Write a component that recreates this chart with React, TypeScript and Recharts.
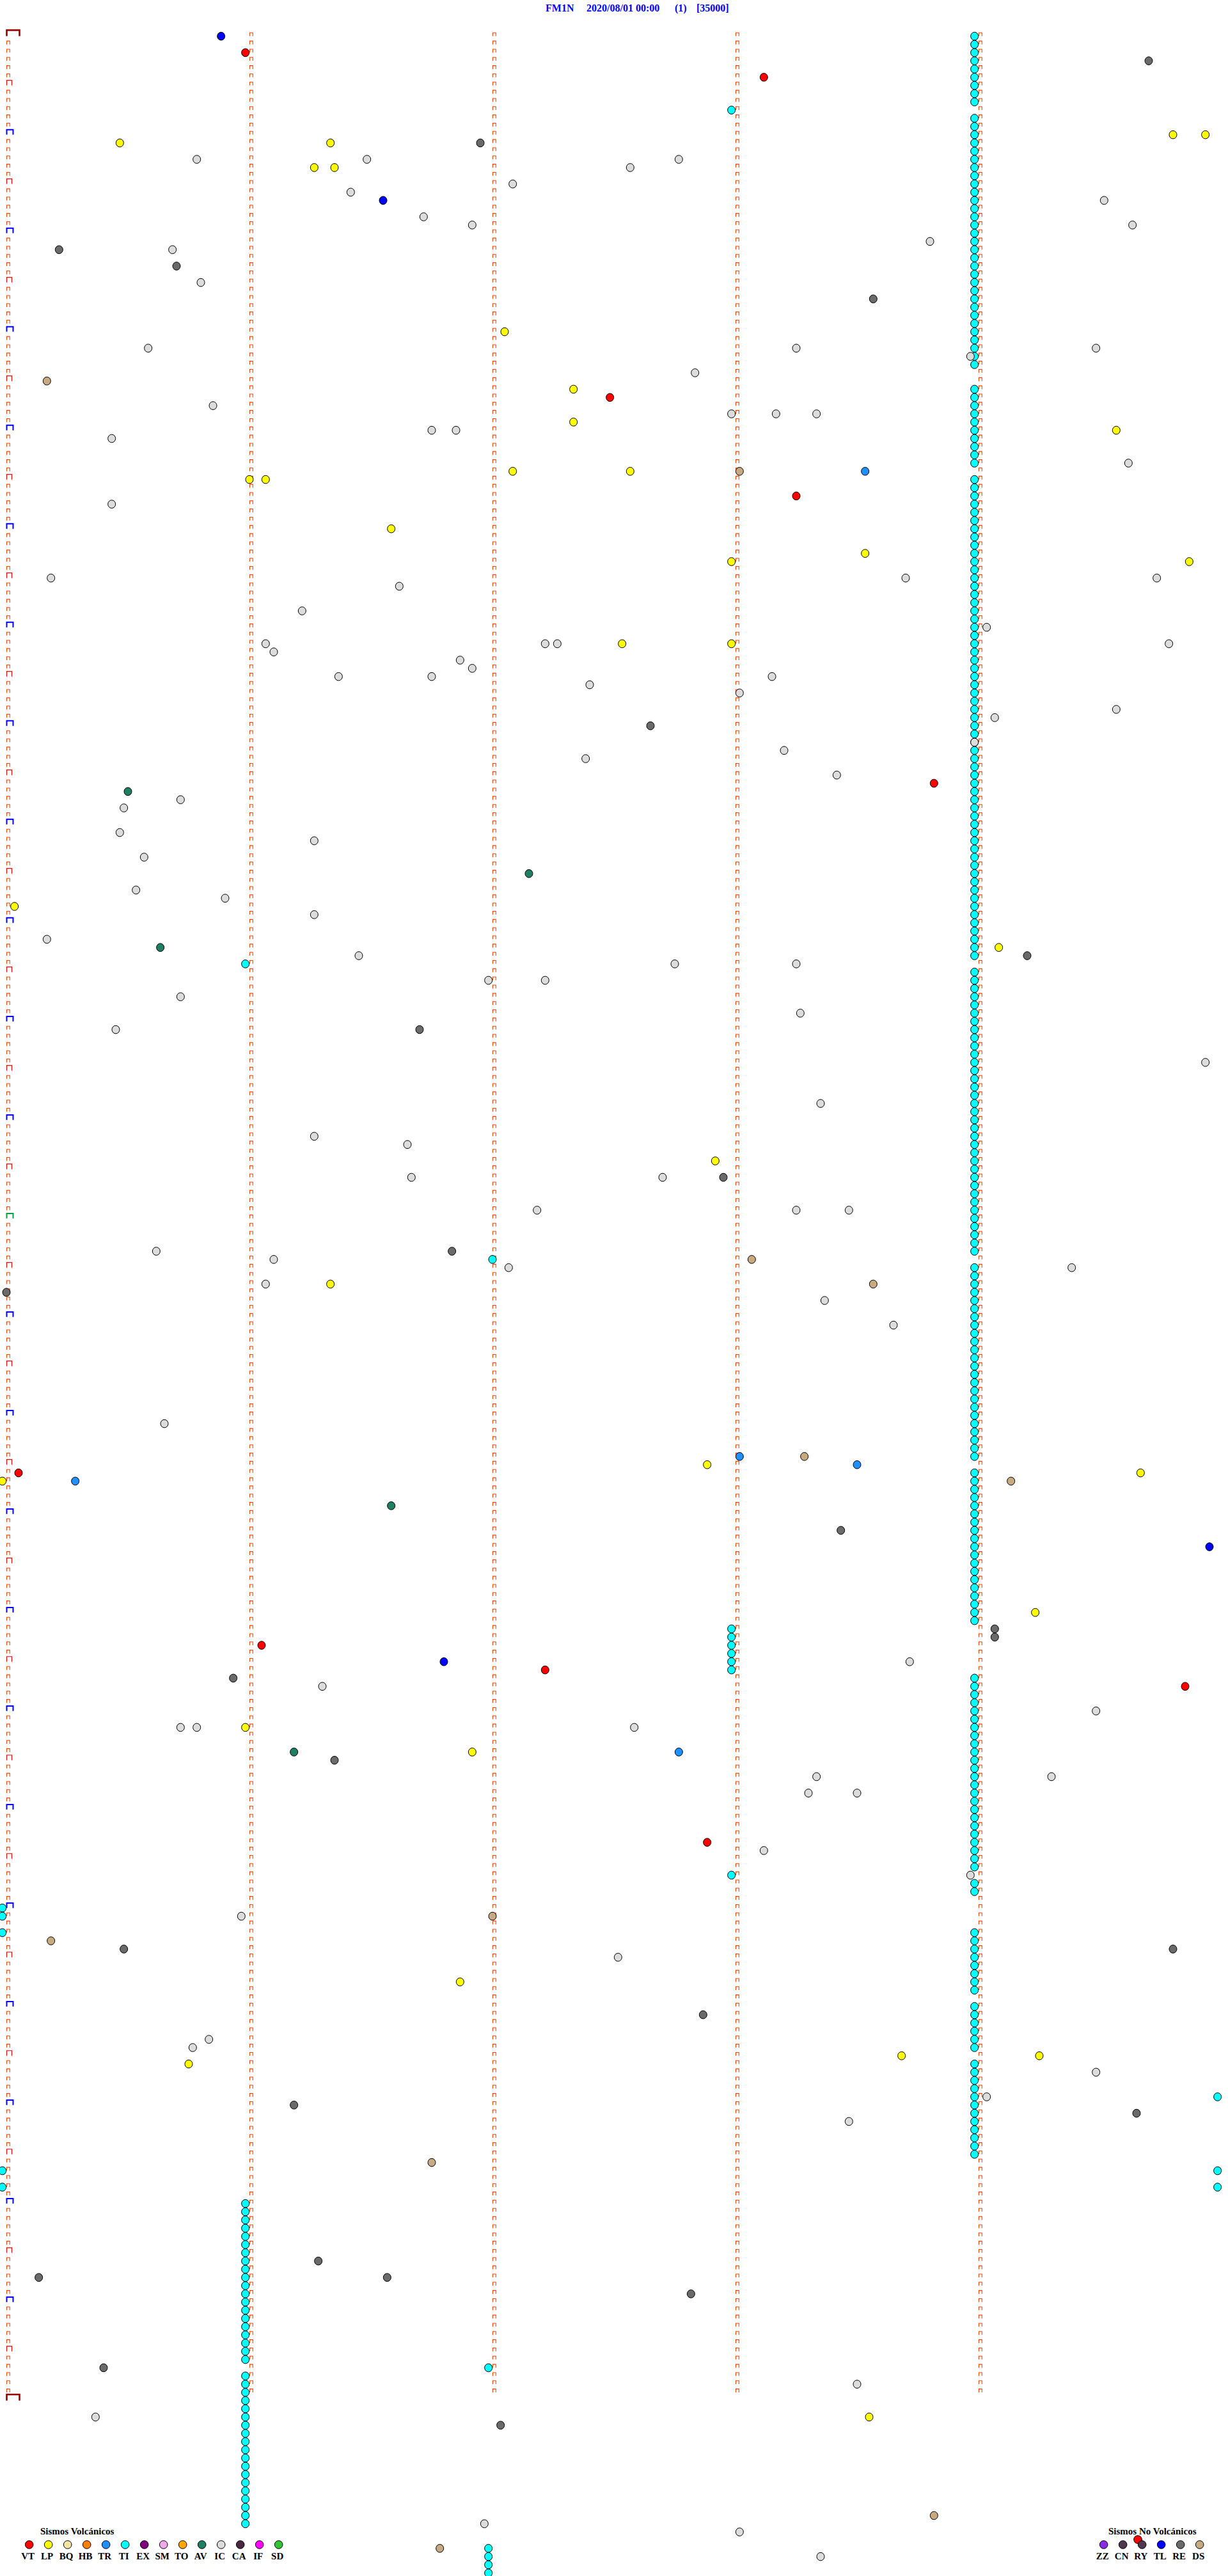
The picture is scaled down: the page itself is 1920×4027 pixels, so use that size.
import { ScatterChart, Scatter, XAxis, YAxis } from 'recharts'

// helicorder: one row = 5 minutes, x = seconds inside the row, y = row index from 00:00
const SERIF = "'Liberation Serif', 'Times New Roman', serif"

const W = 1920
const H = 4027
const SEC_PX = 380 / 60
const X0_PX = 10
const ROW_PX = 12.834
const Y0_PX = 56.6

const X_DOMAIN = [-X0_PX / SEC_PX, (W - X0_PX) / SEC_PX]
const Y_DOMAIN = [-Y0_PX / ROW_PX, (H - Y0_PX) / ROW_PX]

const DAY_ROWS = 288
const MINUTE_MARKS = [0, 60, 120, 180, 240]
const HOUR_TICKS = [24, 48, 72, 96, 120, 144, 168, 192, 216, 240, 264]

// events: [row, second in row]
const VT = [[2, 59], [5, 187], [44, 149], [56, 195], [91, 229], [175, 3], [196, 63], [199, 133], [201, 291], [220, 173]]
const LP = [
  [12, 288], [12, 296], [13, 28], [13, 80], [16, 76], [16, 81], [36, 123], [43, 140], [47, 140], [48, 274],
  [53, 125], [53, 154], [54, 60], [54, 64], [60, 95], [63, 212], [64, 179], [64, 292], [74, 152], [74, 179],
  [106, 2], [111, 245], [137, 175], [152, 80], [174, 173], [175, 280], [176, -1], [192, 254], [206, 59],
  [209, 115], [237, 112], [246, 221], [246, 255], [247, 45], [290, 213],
]
const TL = [[0, 53], [20, 93], [184, 297], [198, 108]]
const TR = [[53, 212], [173, 181], [174, 210], [176, 17], [209, 166]]
const AV = [[92, 30], [102, 129], [111, 38], [179, 95], [209, 71]]
const DS = [[42, 10], [53, 181], [149, 184], [152, 214], [173, 197], [176, 248], [229, 120], [232, 11], [259, 105], [302, 229], [306, 107]]
const RE = [
  [3, 282], [13, 117], [26, 13], [28, 42], [32, 214], [84, 159], [112, 252], [121, 102], [139, 177], [148, 110],
  [153, 0], [182, 206], [194, 244], [195, 244], [200, 56], [210, 81], [233, 29], [233, 288], [241, 172], [252, 71],
  [253, 279], [271, 77], [273, 8], [273, 94], [275, 169], [284, 24], [291, 122],
]
const IC = [
  [15, 47], [15, 89], [15, 166], [16, 154], [18, 125], [19, 85], [20, 271], [22, 103], [23, 115], [23, 278],
  [25, 228], [26, 41], [30, 48], [38, 35], [38, 195], [38, 269], [39, 238], [41, 170], [45, 51], [46, 179],
  [46, 190], [46, 200], [48, 105], [48, 111], [49, 26], [52, 277], [57, 26], [66, 11], [66, 222], [66, 284],
  [67, 97], [70, 73], [72, 242], [74, 64], [74, 133], [74, 136], [74, 287], [75, 66], [76, 112], [77, 115],
  [78, 82], [78, 105], [78, 189], [79, 144], [80, 181], [82, 274], [83, 244], [86, 239], [87, 192], [88, 143],
  [90, 205], [93, 43], [94, 29], [97, 28], [98, 76], [100, 34], [104, 32], [105, 54], [107, 76], [110, 10],
  [112, 87], [113, 165], [113, 195], [115, 119], [115, 133], [117, 43], [119, 196], [121, 27], [125, 296], [130, 201],
  [134, 76], [135, 99], [139, 100], [139, 162], [143, 131], [143, 195], [143, 208], [148, 37], [149, 66], [150, 124],
  [150, 263], [152, 64], [154, 202], [157, 219], [169, 39], [198, 223], [201, 78], [204, 269], [206, 43], [206, 47],
  [206, 155], [212, 200], [212, 258], [214, 198], [214, 210], [221, 187], [224, 238], [229, 58], [234, 151], [244, 50],
  [245, 46], [248, 269], [251, 242], [254, 208], [286, 210], [290, 22], [303, 118], [304, 181], [307, 201],
]
const TI_SINGLE = [
  [9, 179], [113, 59], [149, 120], [224, 179], [228, -1], [229, -1], [231, -1], [251, 299],
  [260, -1], [260, 299], [262, -1], [262, 299], [284, 119],
]
// long runs of TI events: rows per minute column
const TI_MIN4_SEC = 239
const TI_MIN4_ROWS = [
  0, 1, 2, 3, 4, 5, 6, 7, 8,
  10, 11, 12, 13, 14, 15, 16, 17, 18, 19, 20, 21, 22, 23, 24, 25, 26, 27, 28, 29, 30, 31, 32, 33, 34, 35, 36, 37, 38, 39, 40,
  43, 44, 45, 46, 47, 48, 49, 50, 51, 52,
  54, 55, 56, 57, 58, 59, 60, 61, 62, 63, 64, 65, 66, 67, 68, 69, 70, 71, 72, 73, 74, 75, 76, 77, 78, 79, 80, 81, 82, 83,
  84, 85, 86, 87, 88, 89, 90, 91, 92, 93, 94, 95, 96, 97, 98, 99, 100, 101, 102, 103, 104, 105, 106, 107, 108, 109, 110, 111, 112,
  114, 115, 116, 117, 118, 119, 120, 121, 122, 123, 124, 125, 126, 127, 128, 129, 130, 131, 132, 133, 134, 135, 136, 137,
  138, 139, 140, 141, 142, 143, 144, 145, 146, 147, 148,
  150, 151, 152, 153, 154, 155, 156, 157, 158, 159, 160, 161, 162, 163, 164, 165, 166, 167, 168, 169, 170, 171, 172, 173,
  175, 176, 177, 178, 179, 180, 181, 182, 183, 184, 185, 186, 187, 188, 189, 190, 191, 192, 193,
  200, 201, 202, 203, 204, 205, 206, 207, 208, 209, 210, 211, 212, 213, 214, 215, 216, 217, 218, 219, 220, 221, 222, 223, 225, 226,
  231, 232, 233, 234, 235, 236, 237, 238,
  240, 241, 242, 243, 244, 245,
  247, 248, 249, 250, 251, 252, 253, 254, 255, 256, 257, 258,
]
const TI_MIN3_SEC = 179
const TI_MIN3_ROWS = [194, 195, 196, 197, 198, 199]
const TI_MIN1_SEC = 59
const TI_MIN1_ROWS = [
  264, 265, 266, 267, 268, 269, 270, 271, 272, 273, 274, 275, 276, 277, 278, 279, 280, 281, 282, 283,
  285, 286, 287, 288, 289, 290, 291, 292, 293, 294, 295, 296, 297, 298, 299, 300, 301, 302, 303,
]
const TI_MIN2_SEC = 119
const TI_MIN2_ROWS = [306, 307, 308, 309]

const VOLC_TYPES = ['VT', 'LP', 'BQ', 'HB', 'TR', 'TI', 'EX', 'SM', 'TO', 'AV', 'IC', 'CA', 'IF', 'SD']
const VOLC_COLORS = ['#ff0000', '#ffff00', '#f2e4a6', '#ff8000', '#1e90ff', '#00ffff', '#800080', '#f0a8e6', '#ffa500', '#1f7f62', '#dcdcdc', '#4b2840', '#ff00ff', '#33c233']
const NONVOLC_TYPES = ['ZZ', 'CN', 'RY', 'TL', 'RE', 'DS']
const NONVOLC_COLORS = ['#8a2be2', '#503850', '#503850', '#0000ff', '#6a6a6a', '#c8aa80']

const color = (t: string) => {
  const i = VOLC_TYPES.indexOf(t)
  return i >= 0 ? VOLC_COLORS[i] : NONVOLC_COLORS[NONVOLC_TYPES.indexOf(t)]
}

const toPoints = (rows: number[][]) => rows.map(([r, s]) => ({ x: s, y: r }))
const runPoints = (rows: number[], sec: number) => rows.map((r) => ({ x: sec, y: r }))

const TI_POINTS = [
  ...runPoints(TI_MIN4_ROWS, TI_MIN4_SEC),
  ...runPoints(TI_MIN3_ROWS, TI_MIN3_SEC),
  ...runPoints(TI_MIN1_ROWS, TI_MIN1_SEC),
  ...runPoints(TI_MIN2_ROWS, TI_MIN2_SEC),
  ...toPoints(TI_SINGLE),
]

const SERIES: [string, { x: number; y: number }[]][] = [
  ['TI', TI_POINTS],
  ['IC', toPoints(IC)],
  ['RE', toPoints(RE)],
  ['DS', toPoints(DS)],
  ['AV', toPoints(AV)],
  ['TR', toPoints(TR)],
  ['LP', toPoints(LP)],
  ['TL', toPoints(TL)],
  ['VT', toPoints(VT)],
]

// minute marks on every row
const markers: { x: number; y: number; kind: string }[] = []
for (let r = 0; r <= DAY_ROWS; r++) {
  let kind = 'tick'
  if (r === 0 || r === DAY_ROWS) kind = 'day'
  else if (r === 144) kind = 'noon'
  else if (r % 12 === 0) kind = 'hour'
  else if (r % 6 === 0) kind = 'half'
  markers.push({ x: MINUTE_MARKS[0], y: r, kind })
}
for (const s of MINUTE_MARKS.slice(1)) {
  for (let r = 0; r < DAY_ROWS; r++) markers.push({ x: s, y: r, kind: 'tick' })
}

function Marker(p: any) {
  const kind = p.payload?.kind ?? p.kind
  const x = p.cx
  const y = p.cy
  if (kind === 'day') {
    return <path d={`M${x + 0.5} ${y} V${y - 9.5} H${x + 20.5} V${y}`} stroke="#990000" strokeWidth={2.6} fill="none" />
  }
  if (kind === 'hour' || kind === 'noon') {
    return <path d={`M${x + 0.5} ${y} V${y - 7.8} H${x + 10.5} V${y}`} stroke={kind === 'noon' ? '#00a040' : '#0000ff'} strokeWidth={2} fill="none" />
  }
  if (kind === 'half') {
    return <path d={`M${x + 0.5} ${y} V${y - 8} H${x + 8.5} V${y}`} stroke="#ff0000" strokeWidth={1.2} fill="none" />
  }
  return <path d={`M${x + 0.5} ${y} V${y - 5.3} H${x + 5.3} V${y}`} stroke="#ff4500" strokeWidth={1.1} fill="none" />
}

const dot = (fill: string) => (p: any) => (
  <ellipse cx={p.cx} cy={p.cy} rx={6} ry={6.3} fill={fill} stroke="#000" strokeWidth={1} />
)

function HourTick(p: any) {
  const h = Math.round(p.payload.value / 12)
  return (
    <text x={32} y={p.y} fill="#0000ff" fontSize={14} fontWeight="bold" fontFamily={SERIF}>
      {String(h).padStart(2, '0')}:00
    </text>
  )
}

function Overlay() {
  return (
    <svg width={W} height={H} style={{ position: 'absolute', left: 0, top: 0, pointerEvents: 'none' }}>
      <g fill="#0000ff" fontSize={16} fontWeight="bold" fontFamily={SERIF}>
        <text x={853} y={18}>FM1N</text>
        <text x={917} y={18}>2020/08/01 00:00</text>
        <text x={1055} y={18}>(1)</text>
        <text x={1089} y={18}>[35000]</text>
      </g>
      <g fontFamily={SERIF} fontWeight="bold" fill="#000">
        <text x={63} y={3962} fontSize={15}>Sismos Volcánicos</text>
        {VOLC_TYPES.map((t, i) => (
          <g key={t}>
            <circle cx={45.7 + 30 * i} cy={3978} r={6.3} fill={VOLC_COLORS[i]} stroke="#000" strokeWidth={1} />
            <text x={43.7 + 30 * i} y={4001} fontSize={15} textAnchor="middle">{t}</text>
          </g>
        ))}
        <text x={1733} y={3962} fontSize={15}>Sismos No Volcánicos</text>
        <circle cx={1779} cy={3970} r={6.3} fill="#ff0000" stroke="#000" strokeWidth={1} />
        {NONVOLC_TYPES.map((t, i) => (
          <g key={t}>
            <circle cx={1725.7 + 30 * i} cy={3978} r={6.3} fill={NONVOLC_COLORS[i]} stroke="#000" strokeWidth={1} />
            <text x={1723.7 + 30 * i} y={4001} fontSize={15} textAnchor="middle">{t}</text>
          </g>
        ))}
      </g>
    </svg>
  )
}

export default function App() {
  return (
    <div style={{ position: 'absolute', left: 0, top: 0, width: W, height: H, background: '#fff' }}>
      <ScatterChart width={W} height={H} margin={{ top: 0, right: 0, bottom: 0, left: 0 }}>
        <XAxis type="number" dataKey="x" domain={X_DOMAIN} allowDataOverflow hide />
        <YAxis
          type="number"
          dataKey="y"
          domain={Y_DOMAIN}
          allowDataOverflow
          reversed
          width={0}
          axisLine={false}
          tickLine={false}
          ticks={HOUR_TICKS}
          interval={0}
          tick={HourTick}
        />
        <Scatter data={markers} shape={Marker} isAnimationActive={false} />
        {SERIES.map(([t, pts]) => (
          <Scatter key={t} name={t} data={pts} shape={dot(color(t))} isAnimationActive={false} />
        ))}
      </ScatterChart>
      <Overlay />
    </div>
  )
}
